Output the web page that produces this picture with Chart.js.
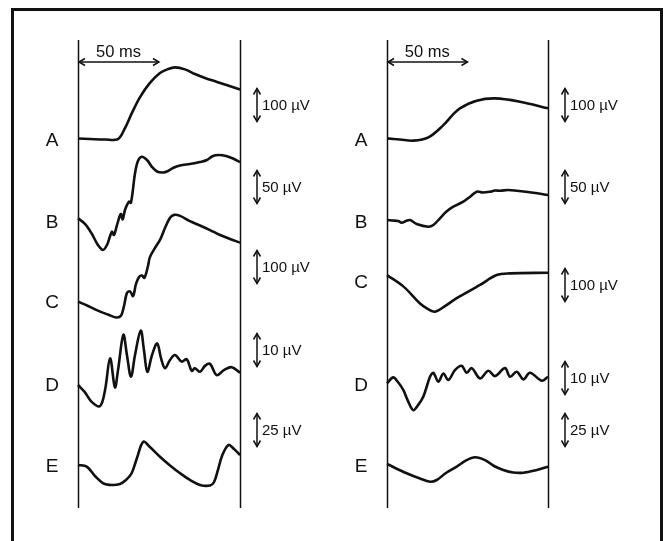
<!DOCTYPE html>
<html>
<head>
<meta charset="utf-8"/>
<style>
  body { margin:0; background:#fff; }
  #page { position:relative; width:670px; height:541px; overflow:hidden; }
  #frame { position:absolute; left:11px; top:8px; width:646px; height:600px; border:3px solid #111; }
  .holder { position:absolute; top:0; width:335px; height:541px; }
</style>
</head>
<body>
<div id="page">
  <div id="frame"></div>
  <div class="holder" style="left:0"><canvas id="left-chart"></canvas></div>
  <div class="holder" style="left:335px"><canvas id="right-chart"></canvas></div>
</div>

<script src="https://cdn.jsdelivr.net/npm/chart.js@4.4.1/dist/chart.umd.min.js"></script>
<script>
// rows and their scale bars (µV)
var rowLabels = ['A', 'B', 'C', 'D', 'E'];
var barValues = [100, 50, 100, 10, 25];
var timeBar = 50;   // ms
var sweep = 100;    // ms shown per panel

// traces: [time ms, µV from baseline]
var leftA = [[0,4.5],[7.4,3],[16.7,1.5],[24.7,3],[29,36],[33.3,82],[38.3,130],[44.4,173],[50.6,203],[55.6,215],[59.9,220],[66,214],[72.2,200],[78.4,188],[85.8,176],[92.6,165],[100,153]];
var leftB = [[0,5.6],[4.3,-3],[8.6,-18.2],[12.3,-34.8],[15.4,-42.4],[17.9,-34.8],[19.8,-21.2],[21,-14.4],[22.2,-19.7],[24.1,-4.5],[26.4,12.1],[27.6,4.1],[29,18.2],[31.5,30.8],[32.7,29.2],[35.2,73.8],[37,92.4],[39.3,98.9],[42.6,93.9],[45.7,83.3],[48.8,76.5],[52.5,75],[55.6,77.3],[58.6,81.8],[63,85.6],[69.1,87.9],[75.3,90.9],[79.6,93.9],[83.3,100],[87,101.5],[91.4,100],[95.7,96.2],[100,90.9]];
var leftC = [[0,1],[6.2,-12],[12.3,-26],[18.5,-38],[23.5,-47],[26.5,-42],[28.4,-12],[30.2,27],[32.1,32],[34,18],[35.8,55],[37.7,76],[39.5,80],[41,73],[43.2,109],[44.4,136],[47.5,164],[50.6,188],[53.7,224],[56.8,255],[59.3,264],[63,261],[69.1,245],[75.3,232],[81.5,218],[87.7,203],[93.8,191],[100,180]];
var leftD = [[0,0],[4.1,-2.1],[8.6,-5.2],[13.6,-6.4],[16.7,-1.5],[19.8,8.1],[22.8,-0.7],[24.7,4.5],[28,15.2],[30.2,9.1],[32.7,2.5],[35.2,9.1],[38.7,16.5],[40.7,10.6],[42.8,4],[45.7,9.1],[48.9,12.6],[51.2,8.2],[53.7,5.1],[56.8,7.6],[59.9,9.1],[64,7.1],[67.1,7.8],[70.2,4.3],[72.2,5.1],[75.3,4],[78.4,5.8],[81.5,6.4],[85.6,3],[90.1,4.5],[94.9,5.4],[100,3.7]];
var leftE = [[0,0.8],[5.4,-0.5],[10.5,-7.6],[15.6,-13.1],[21,-14.4],[25.9,-13.6],[29.6,-10.6],[33.1,-5.5],[36.4,6.1],[40.3,18.4],[44.4,14.4],[50.6,7],[56.8,0.4],[63,-5.5],[69.1,-10.6],[75.3,-14.4],[81.5,-14.8],[84,-12.1],[86.4,-3],[88.9,7.6],[92.8,15.9],[96.3,12.9],[100,8.3]];

var rightA = [[0,5],[8.1,1.5],[16.3,-2],[25.7,8],[35,45],[40.4,74],[45.3,96],[55.7,119],[67.1,126],[82.6,116],[100,96]];
var rightB = [[0,3],[3.1,2.3],[7,1.5],[9.1,-1.1],[11.8,1.5],[14.3,3],[18.4,-3],[25.7,-7.1],[28.8,-4.5],[32.9,5.6],[36.6,15.2],[41.2,23.2],[47.4,30.8],[51.6,38.3],[55.7,45.9],[59.6,44.7],[64,45.9],[67.1,47.7],[70.2,47.4],[75.2,48.5],[80.6,47.4],[90.9,44.4],[100,40.9]];
var rightC = [[0,21],[10.3,-14],[20.5,-65],[25.5,-82],[29.8,-90],[36,-73],[43.3,-49],[57.8,-9],[68.1,21],[76.4,26],[100,28]];
var rightD = [[0,0.5],[3.9,2.3],[6.8,0.9],[10.1,-1.5],[13,-4.8],[16.3,-7.6],[19.3,-6.1],[22.6,-3.5],[26.7,2.5],[28.8,3.7],[31.9,1],[35,3.5],[38.1,1.5],[42.2,4.5],[46.4,5.8],[49.5,3.7],[52.6,5.1],[57.8,2],[62.9,4.3],[67.1,2.7],[73.3,5.1],[76.4,2.5],[80.6,4],[84.7,1.7],[88.8,3.7],[96.1,1.3],[100,2.5]];
var rightE = [[0,1.5],[12.2,-5.5],[20.5,-9.5],[26.7,-11.9],[30.9,-10.6],[36.6,-5.3],[43.3,-0.5],[49.1,4.2],[54.7,6.6],[60.9,4.5],[66.5,0],[72.2,-3],[78.3,-4.9],[84.7,-5.1],[91.9,-3.4],[100,-0.5]];

// layout (pixels on the page)
var UNIT = 33;          // height of one scale bar
var PLOT_TOP = 40, PLOT_BOTTOM = 508;
function toUnits(px) { return (PLOT_BOTTOM - px) / UNIT; }

var panels = [
  { id: 'left-chart', traces: [leftA, leftB, leftC, leftD, leftE],
    base: [140, 222, 302, 385, 466], bars: [105, 187, 267, 350, 430],
    padLeft: 78, padRight: 95 },
  { id: 'right-chart', traces: [rightA, rightB, rightC, rightD, rightE],
    base: [140, 222, 282, 385, 466], bars: [105, 187, 285, 378, 430],
    padLeft: 52, padRight: 122 }
];

var FONT = '"Liberation Sans", Arial, sans-serif';

function drawHead(ctx, x, y, dx, dy) {
  // open V arrow head pointing along (dx,dy)
  var len = 6, w = 3.5;
  var px = -dy, py = dx;
  ctx.beginPath();
  ctx.moveTo(x - dx * len + px * w, y - dy * len + py * w);
  ctx.lineTo(x, y);
  ctx.lineTo(x - dx * len - px * w, y - dy * len - py * w);
  ctx.stroke();
}

var panelPlugin = {
  id: 'panel',
  afterDatasetsDraw: function(chart, args, opts) {
    var ctx = chart.ctx, xs = chart.scales.x, ys = chart.scales.y;
    var area = chart.chartArea;
    ctx.save();
    ctx.strokeStyle = '#111';
    ctx.fillStyle = '#111';
    ctx.lineWidth = 1.5;

    // sweep borders
    [0, sweep].forEach(function(t) {
      var x = Math.round(xs.getPixelForValue(t)) + 0.5;
      ctx.beginPath();
      ctx.moveTo(x, area.top);
      ctx.lineTo(x, area.bottom);
      ctx.stroke();
    });

    // time scale
    var x0 = xs.getPixelForValue(0), x1 = xs.getPixelForValue(timeBar);
    var ya = area.top + 22;
    ctx.beginPath();
    ctx.moveTo(x0 + 1, ya);
    ctx.lineTo(x1, ya);
    ctx.stroke();
    drawHead(ctx, x0 + 1, ya, -1, 0);
    drawHead(ctx, x1, ya, 1, 0);
    ctx.font = '16.5px ' + FONT;
    ctx.textAlign = 'center';
    ctx.textBaseline = 'alphabetic';
    ctx.fillText(timeBar + ' ms', xs.getPixelForValue(timeBar / 2), area.top + 17);

    // row letters and amplitude bars
    for (var i = 0; i < rowLabels.length; i++) {
      var yb = ys.getPixelForValue(toUnits(opts.base[i]));
      ctx.font = '19px ' + FONT;
      ctx.textAlign = 'center';
      ctx.textBaseline = 'middle';
      ctx.fillText(rowLabels[i], area.left - 26, yb + 1);

      var c = toUnits(opts.bars[i]);
      var yt = ys.getPixelForValue(c + 0.5), ybt = ys.getPixelForValue(c - 0.5);
      var xb = area.right + 17;
      ctx.beginPath();
      ctx.moveTo(xb, yt);
      ctx.lineTo(xb, ybt);
      ctx.stroke();
      drawHead(ctx, xb, yt, 0, -1);
      drawHead(ctx, xb, ybt, 0, 1);
      ctx.font = '15px ' + FONT;
      ctx.textAlign = 'left';
      ctx.fillText(barValues[i] + ' µV', area.right + 22, (yt + ybt) / 2 + 1);
    }
    ctx.restore();
  }
};

panels.forEach(function(p) {
  var datasets = p.traces.map(function(tr, i) {
    var off = toUnits(p.base[i]);
    return {
      label: rowLabels[i],
      data: tr.map(function(pt) { return { x: pt[0], y: off + pt[1] / barValues[i] }; }),
      borderColor: '#111',
      borderWidth: 2.6,
      pointRadius: 0,
      tension: 0.35,
      fill: false,
      clip: false
    };
  });

  new Chart(document.getElementById(p.id).getContext('2d'), {
    type: 'line',
    data: { datasets: datasets },
    plugins: [panelPlugin],
    options: {
      responsive: true,
      maintainAspectRatio: false,
      animation: false,
      events: [],
      layout: { padding: { left: p.padLeft, right: p.padRight, top: PLOT_TOP, bottom: 541 - PLOT_BOTTOM } },
      scales: {
        x: { type: 'linear', min: 0, max: sweep, display: false },
        y: { type: 'linear', min: 0, max: (PLOT_BOTTOM - PLOT_TOP) / UNIT, display: false }
      },
      plugins: {
        legend: { display: false },
        tooltip: { enabled: false },
        panel: { base: p.base, bars: p.bars }
      }
    }
  });
});
</script>
</body>
</html>
